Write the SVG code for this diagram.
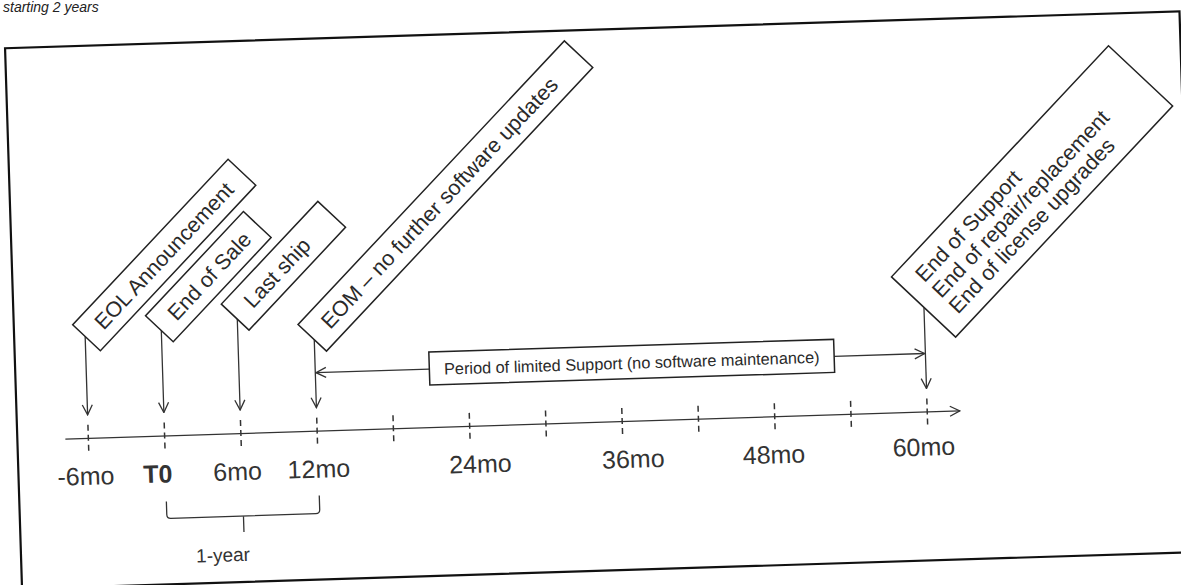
<svg xmlns="http://www.w3.org/2000/svg" width="1181" height="585" viewBox="0 0 1181 585">
<defs>
<marker id="ah" viewBox="0 0 12 12" refX="11" refY="6" markerWidth="12" markerHeight="12" markerUnits="userSpaceOnUse" orient="auto"><path d="M1,1 L11,6 L1,11" fill="none" stroke="#333" stroke-width="1.3"/></marker>
<style>
.frame{fill:none;stroke:#111;stroke-width:2.2}
.box{fill:#fff;stroke:#222;stroke-width:1.5}
.lbl{font-family:"Liberation Sans",Arial,sans-serif;font-size:21.5px;fill:#2a2a2a}
.ax{font-family:"Liberation Sans",Arial,sans-serif;font-size:25px;fill:#333;text-anchor:middle}
.small{font-family:"Liberation Sans",Arial,sans-serif;font-size:16.3px;fill:#2a2a2a;text-anchor:middle}
.conn{stroke:#333;stroke-width:1.3;fill:none}
.arr{marker-end:url(#ah)}
.tick{stroke:#333;stroke-width:1.5;stroke-dasharray:6 4}
</style>
</defs>
<rect width="1181" height="585" fill="#fff"/>
<text x="3" y="12" font-family="'Liberation Sans',Arial,sans-serif" font-style="italic" font-size="14" fill="#222">starting 2 years</text>
<g transform="rotate(-1.8 590 292)">
<rect class="frame" x="13" y="30" width="1175" height="541"/>
<g id="connectors">
<path class="conn arr" d="M61,422.5 H956"/>
<path class="tick" d="M84,409 V437 M160.3,409 V437 M236.6,409 V437 M312.9,409 V437 M389.2,409 V437 M465.5,409 V437 M541.8,409 V437 M618.1,409 V437 M694.4,409 V437 M770.7,409 V437 M847,409 V437 M923.3,409 V437"/>
<path class="conn arr" d="M84,320.6 V399"/>
<path class="conn arr" d="M160.3,317.1 V399"/>
<path class="conn arr" d="M236.6,308 V399"/>
<path class="conn arr" d="M312.9,330.9 V399"/>
<path class="conn arr" d="M923.3,317.9 V399"/>
<path class="conn arr" d="M427,364 H313.6"/>
<path class="conn arr" d="M832,364 H922.6"/>
<path class="conn" stroke="#555" d="M160,488 V501 Q160,505 164,505 H309 Q313,505 313,501 V487 M236.6,505 V521"/>
</g>
<g id="eol" transform="translate(165.6 241.7) rotate(-45)">
<rect class="box" x="-113.5" y="-19" width="227" height="38"/>
<text class="lbl" x="-96.5" y="7.7">EOL Announcement</text>
</g>
<g id="end-of-sale" transform="translate(209 264.7) rotate(-45)">
<rect class="box" x="-71.5" y="-19" width="143" height="38"/>
<text class="lbl" x="-54.5" y="7.7">End of Sale</text>
</g>
<g id="last-ship" transform="translate(284.4 256.1) rotate(-45)">
<rect class="box" x="-70.5" y="-19" width="141" height="38"/>
<text class="lbl" x="-52.5" y="7.7">Last ship</text>
</g>
<g id="eom" transform="translate(448.5 191.5) rotate(-45)">
<rect class="box" x="-194.5" y="-19.5" width="389" height="39"/>
<text class="lbl" x="-176.5" y="7.7">EOM – no further software updates</text>
</g>
<g id="end-of-support" transform="translate(1035 205.4) rotate(-45)">
<rect class="box" x="-158.5" y="-44" width="317" height="88"/>
<text class="lbl" x="-140.5" y="-15.5" font-size="22">End of Support</text>
<text class="lbl" x="-140.5" y="7.5" font-size="22">End of repair/replacement</text>
<text class="lbl" x="-140.5" y="30.5" font-size="22">End of license upgrades</text>
</g>
<g id="period">
<rect class="box" x="427" y="347" width="405" height="33"/>
<text class="small" x="629.5" y="370">Period of limited Support (no software maintenance)</text>
</g>
<g id="axis-labels">
<text class="ax" x="80.4" y="469">-6mo</text>
<text class="ax" x="152.4" y="469" font-weight="bold">T0</text>
<text class="ax" x="232.1" y="469">6mo</text>
<text class="ax" x="313.4" y="469">12mo</text>
<text class="ax" x="475.1" y="469">24mo</text>
<text class="ax" x="628" y="469">36mo</text>
<text class="ax" x="768.8" y="469">48mo</text>
<text class="ax" x="918.9" y="466">60mo</text>
</g>
<g id="brace-label">
<text x="215" y="550" font-family="'Liberation Sans',Arial,sans-serif" font-size="19" fill="#333" text-anchor="middle">1-year</text>
</g>
</g>
</svg>
